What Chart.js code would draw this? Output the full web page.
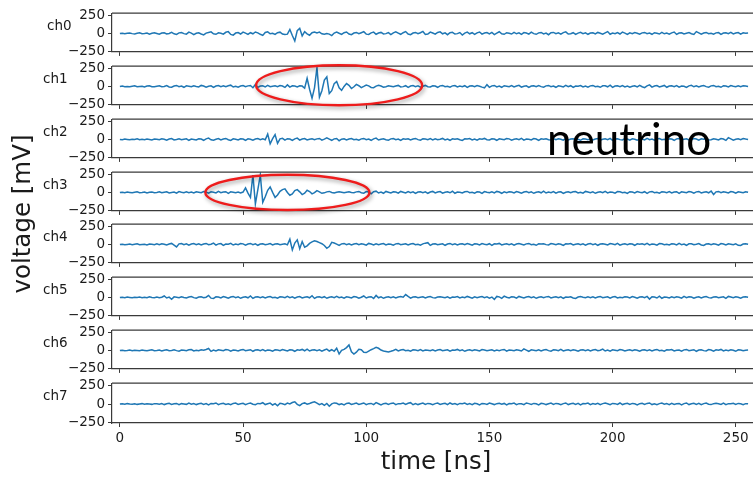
<!DOCTYPE html>
<html>
<head>
<meta charset="utf-8">
<script src="https://cdn.jsdelivr.net/npm/chart.js@4.4.0/dist/chart.umd.min.js"></script>
<style>
  html, body { margin: 0; padding: 0; background: #fff; }
  #wrap { position: relative; width: 753px; height: 477px; overflow: hidden; }
  #wrap canvas { position: absolute; left: 0; }
  .lbl { position: absolute; font-family: "DejaVu Sans", sans-serif; color: #1a1a1a; white-space: nowrap; line-height: 1; }
</style>
</head>
<body>
<div id="wrap"></div>
<script>
// waveforms, one sample per ns (mV)
const channelNames = ["ch0", "ch1", "ch2", "ch3", "ch4", "ch5", "ch6", "ch7"];
const ch0 = [0,3,-5,1,6,-3,-8,2,8,-5,0,6,-10,3,8,-2,
  -12,5,10,-8,0,15,-5,-14,8,12,-3,-10,18,5,-16,2,
  10,-8,-20,5,14,22,-5,-12,8,3,-10,16,25,-14,-24,5,
  12,-8,18,5,-14,10,-5,20,8,-12,-28,14,22,-5,3,-14,
  10,18,-8,-15,-10,55,-30,-107,40,72,-35,25,-5,-25,10,20,
  8,18,-5,-12,0,-10,-30,5,20,2,-14,10,20,-8,-18,5,
  14,-5,10,25,-10,-14,8,18,-12,5,14,-8,-3,12,-16,8,
  22,5,-12,10,26,-8,-18,5,14,-5,10,28,-14,-8,18,5,
  -10,14,22,-5,8,-18,10,16,-8,-3,12,-22,5,18,-5,10,
  -14,8,20,-10,5,12,-8,14,-16,5,24,-5,-12,10,3,-8,
  16,-5,8,-14,12,5,-10,18,-3,-12,8,14,-8,5,-18,10,
  14,-5,8,-10,12,22,-8,-5,10,-14,5,16,-3,8,-12,5,
  10,-8,14,3,-10,8,26,-12,5,-5,12,-8,18,5,-14,8,
  -5,12,3,-10,8,14,-5,5,-12,10,3,-8,16,-5,5,-10,
  8,20,-14,5,10,-8,3,12,-5,-14,26,8,-10,5,14,-5,
  3,-10,8,12,-14,5,10,-5,14,-8,5,12,-10,8,3,5];
const ch1 = [0,5,-3,0,-5,3,8,-5,0,3,-8,5,10,-3,-5,3,
  8,-5,0,12,-8,-10,5,14,-3,5,-12,8,3,-5,10,0,
  -8,14,5,-10,3,8,-14,5,12,-3,8,-5,10,18,-8,3,
  -10,5,12,-5,8,14,-18,28,-14,5,10,-8,14,-5,3,8,
  -5,12,5,-14,22,-10,8,5,-8,10,5,-25,115,-40,-165,-20,
  265,-150,-60,90,135,-100,-60,40,70,-20,-55,0,40,15,-30,-5,
  28,10,-18,0,20,8,-15,-18,4,16,6,-10,-4,8,3,-5,
  5,14,-8,-3,10,-14,5,12,-5,8,-10,3,14,-5,-8,10,
  5,-12,8,14,-5,3,-10,8,12,-8,5,-3,10,-14,5,8,
  -5,12,3,-10,-20,25,-12,8,14,-8,5,-12,10,3,-5,12,
  -8,5,16,-10,3,8,-14,5,10,-5,12,-3,-10,8,14,-5,
  5,-12,8,3,-8,14,-5,10,-14,5,3,12,-8,5,-10,8,
  14,-5,3,-12,8,10,-5,18,-14,5,8,-3,12,-8,5,-10,
  3,10,-8,14,-5,-18,8,22,-10,5,12,-8,3,14,-12,5,
  8,-5,12,-10,5,3,-14,8,16,-5,10,-8,5,12,-3,-10,
  8,14,-5,3,-12,10,5,-8,12,3,-5,10,-3,8,5,0];
const ch2 = [0,-3,5,0,-5,3,0,8,-5,3,-3,5,0,-8,5,3,
  -5,8,3,-10,5,12,-8,0,10,-5,3,8,-12,5,0,-8,
  10,5,-12,8,18,-5,-10,3,12,-8,5,14,-5,-14,8,3,
  -8,10,5,-12,8,3,-10,5,12,-5,8,-5,75,-62,10,68,
  -55,8,15,-10,10,5,-14,8,18,-10,5,12,-8,3,10,-5,
  8,14,-10,5,22,5,-12,8,14,-18,3,10,-8,5,12,-5,
  3,-10,8,14,-5,5,-12,8,18,-8,3,10,-5,-10,8,12,
  -5,5,-14,8,3,10,-8,5,14,-3,-10,8,5,-5,12,-8,
  10,-5,3,14,-8,5,-12,8,3,10,-5,-14,8,5,12,-8,
  5,-10,8,3,14,-5,-8,10,5,-12,8,3,-5,12,8,-10,
  3,8,-5,14,-10,5,3,-8,12,5,-14,8,3,10,-5,-8,
  12,-5,8,3,-10,14,-8,5,10,-5,3,-12,8,5,-3,10,
  -8,5,12,-10,3,8,-5,14,-12,5,10,-3,-8,12,5,-10,
  8,3,-12,10,5,-8,14,-3,5,-10,8,12,-5,3,-8,10,
  5,-12,8,14,-5,3,10,-8,-5,12,5,-10,8,3,14,-8,
  -5,10,3,-8,12,5,-14,25,8,-10,3,8,-5,12,5,0];
const ch3 = [0,3,-3,5,0,-5,3,8,-3,0,5,-8,3,5,-3,0,
  8,-5,3,10,-8,0,5,-10,12,3,-5,8,-3,5,-8,10,
  3,-5,12,5,-10,8,3,-8,14,-5,5,10,-12,8,3,-5,
  5,-8,5,64,-10,-70,245,-160,40,245,-140,-60,30,78,0,-70,
  -35,15,40,50,0,-40,-20,25,40,8,-30,-10,30,12,-20,-3,
  25,8,-12,-6,8,14,0,-8,2,10,3,-6,2,8,-2,-5,
  8,14,-5,-10,12,5,-20,10,18,-8,5,-12,14,3,-8,10,
  5,-10,14,3,-8,12,-5,8,-14,5,10,-3,8,-12,5,14,
  -8,5,12,-10,3,8,-5,16,-12,5,3,-8,10,14,-5,3,
  -10,8,5,-14,12,3,-5,10,-8,14,5,-12,8,-3,10,5,
  -8,12,3,-10,5,14,-5,8,-12,3,10,-5,18,-8,5,-3,
  12,-10,5,8,-14,3,10,-5,8,12,-8,3,-10,14,5,-5,
  8,-12,3,10,-5,14,-8,5,3,-10,12,8,-5,3,-14,10,
  5,-8,12,3,-5,10,-12,8,14,-5,3,-10,8,5,-3,12,
  -8,5,10,-14,8,3,-5,12,5,-10,8,14,-8,3,10,-5,
  18,-30,8,14,-5,10,3,-8,12,5,-10,8,3,-5,10,3];
const ch4 = [0,3,-5,0,5,-3,3,8,-5,0,3,-8,5,3,-3,8,
  -5,10,3,-8,5,14,-10,-35,8,12,-5,8,-10,5,12,-5,
  10,-8,5,14,-5,3,18,-10,8,12,-14,5,3,16,-8,5,
  -5,12,8,-10,5,14,-3,8,-12,5,10,-5,3,12,-8,5,
  10,-5,3,8,-6,73,-77,20,64,-60,40,-40,-20,15,35,50,
  40,25,10,-15,-55,-30,30,20,5,-14,8,14,-5,10,-8,5,
  12,-5,8,3,-10,14,5,-8,10,-3,5,12,-8,5,3,-10,
  8,14,-5,3,10,-8,5,12,-5,3,-10,8,18,25,-14,5,
  10,-5,3,8,-12,5,14,-3,8,-8,5,10,-5,12,3,-10,
  8,5,-8,12,3,-5,10,-12,8,5,14,-8,3,10,-5,8,
  -10,5,12,3,-8,8,14,-5,3,-12,8,5,10,-3,-8,12,
  5,-5,10,3,-14,8,5,12,-8,3,10,-5,8,-10,5,14,
  -3,8,-12,5,10,3,-8,12,5,-5,14,-10,3,8,-5,10,
  5,-12,8,3,10,-5,14,-8,5,3,-10,12,8,-5,3,-8,
  10,5,-8,14,-3,5,-12,8,10,-5,3,12,-8,-14,5,10,
  -5,8,3,-10,12,5,-8,10,3,-5,8,-12,-14,5,10,3];
const ch5 = [0,3,-3,5,0,-5,3,0,5,-3,3,-5,8,0,-3,5,
  -5,3,20,-8,5,-25,8,3,-5,10,0,-8,5,12,-3,-10,
  5,8,-5,3,28,-10,-14,8,5,-8,12,3,-10,5,14,-5,
  8,-12,3,10,-5,20,-14,5,8,-3,10,-8,5,12,-5,3,
  -10,8,5,-5,14,-3,8,-10,5,12,-8,3,10,-5,24,-14,
  5,8,-5,10,-12,3,8,-3,14,-5,5,-10,8,3,-8,12,
  5,-10,3,20,-8,5,10,-14,28,-5,8,-12,3,10,-5,8,
  -8,5,12,3,40,14,-10,5,8,-5,3,10,-8,5,12,-3,
  -8,5,10,3,-5,8,-10,5,3,12,-8,5,-5,14,3,-10,
  8,-5,5,12,-3,8,-10,5,-28,14,8,-12,18,3,-8,10,
  5,-10,14,3,-8,5,12,-5,8,-12,3,10,-5,8,14,-8,
  3,10,-5,8,-12,5,3,10,-8,-14,5,12,3,-5,8,-3,
  10,-8,5,14,-5,3,8,-10,5,12,-8,3,-5,10,5,-8,
  12,3,-10,5,8,-5,14,-24,10,5,-8,18,-12,5,3,-8,
  10,-5,8,3,-10,14,-5,8,5,-12,3,10,-8,5,12,-3,
  -8,5,10,-5,3,8,-12,14,5,-5,8,3,-10,5,8,3];
const ch6 = [0,3,-3,0,5,-5,3,0,-3,5,0,-5,3,8,-3,0,
  5,-8,3,10,-5,0,8,-3,-10,5,3,-5,8,12,-8,3,
  -5,10,3,14,28,-14,5,-8,10,3,-5,12,8,-10,5,3,
  -8,5,14,-5,3,10,-12,5,8,-3,12,-8,5,3,-10,8,
  5,-5,12,3,-8,10,5,-12,8,3,14,-5,18,-8,5,10,
  -3,8,-10,5,18,-8,10,-12,30,-50,0,15,40,77,-20,-51,
  -25,15,10,-25,-30,-10,10,25,43,30,5,-8,-15,-22,-12,0,
  14,-8,5,12,-5,3,-10,8,5,-3,12,-8,5,3,-5,10,
  -8,5,12,-5,3,8,-10,5,3,14,-5,8,-12,3,10,-5,
  8,3,-8,12,5,-5,3,10,-8,5,-3,8,14,-10,5,3,
  -5,10,3,-8,22,5,-12,8,3,-5,10,-8,5,12,-3,-10,
  8,5,-5,14,-8,3,10,-5,8,3,-12,5,10,-3,8,-8,
  5,12,-5,3,18,-8,5,-10,8,3,-5,12,5,-8,3,10,
  -5,8,3,-12,5,10,-3,8,-8,5,14,-5,3,-10,8,5,
  12,-8,3,5,-10,8,14,-5,3,10,-12,5,8,-3,-8,12,
  5,-10,8,3,14,-8,5,-5,10,3,-12,8,5,-5,3,5];
const ch7 = [0,3,-3,5,0,-3,3,-5,0,5,-3,3,0,-5,5,3,
  -3,5,-8,3,10,-5,3,8,-10,5,0,-5,12,-3,5,-8,
  3,10,-5,5,-12,8,3,14,-8,5,10,-5,3,-10,8,12,
  -5,3,10,-8,5,14,-3,-10,8,5,18,-8,3,12,-14,5,
  -25,10,4,-8,12,2,20,30,-5,-22,6,15,-3,8,20,30,
  12,-10,5,-18,8,-30,2,15,10,-8,3,-12,8,14,-5,3,
  12,-5,3,14,-10,5,8,-8,18,3,-12,5,10,-5,8,14,
  -8,5,3,12,-5,10,18,-10,5,-8,3,14,-5,8,3,-10,
  5,12,-5,3,10,-8,14,-3,5,-10,8,3,12,-5,5,-8,
  10,3,-12,8,5,-5,14,3,-8,5,10,-3,8,-12,5,3,
  12,-8,5,3,-10,14,5,-5,8,3,-12,10,5,-8,3,12,
  -5,8,3,-10,5,14,-8,3,10,-5,8,-12,5,3,12,-8,
  5,-3,10,-8,5,12,3,-10,8,5,-5,14,-8,3,10,-5,
  8,3,-12,5,10,-5,8,14,-8,3,-10,5,12,-3,5,-8,
  10,-5,3,8,-12,5,14,-8,3,10,-5,8,-10,5,12,-3,
  -8,5,10,3,-5,12,-8,5,3,10,-5,8,3,-10,5,3];
const channels = [ch0, ch1, ch2, ch3, ch4, ch5, ch6, ch7];

const xTicks = [0, 50, 100, 150, 200, 250];
const yTicks = [-250, 0, 250];

// red rings drawn on ch1 and ch3 (data units: ns, mV)
const rings = {
  1: { t: 89, dt: 33.7, v: 17, dv: 282 },
  3: { t: 68, dt: 33.3, v: 0, dv: 248 }
};

// layout
const X_MIN = -3.2, X_MAX = 257;
const Y_MIN = -260, Y_MAX = 286;
const PLOT_LEFT = 112;
const PANEL_TOP = 11, PITCH = 52.86, PANEL_H = 42, PAD = 9;
const LINE = "#1f77b4", SPINE = "#3a3a3a", TXT = "#1a1a1a";

Chart.defaults.font.family = "'DejaVu Sans', sans-serif";
Chart.defaults.color = TXT;

const deco = {
  id: "deco",
  afterDraw(chart, args, opts) {
    const { ctx, chartArea: a, scales } = chart;
    ctx.save();
    ctx.strokeStyle = SPINE;
    ctx.lineWidth = 1.2;
    ctx.beginPath();
    ctx.moveTo(a.left, a.top);
    ctx.lineTo(a.right, a.top);
    ctx.stroke();
    const r = opts.ring;
    if (r) {
      const cx = scales.x.getPixelForValue(r.t);
      const cy = scales.y.getPixelForValue(r.v);
      const rx = scales.x.getPixelForValue(r.t + r.dt) - cx;
      const ry = cy - scales.y.getPixelForValue(r.v + r.dv);
      ctx.shadowColor = "rgba(0,0,0,0.4)";
      ctx.shadowBlur = 4;
      ctx.shadowOffsetX = 1.5;
      ctx.shadowOffsetY = 2;
      ctx.strokeStyle = "#ee1c1c";
      ctx.lineWidth = 2.4;
      ctx.beginPath();
      ctx.ellipse(cx, cy, rx, ry, 0, 0, Math.PI * 2);
      ctx.stroke();
    }
    ctx.restore();
  }
};

const wrap = document.getElementById("wrap");

function addLabel(text, css) {
  const d = document.createElement("div");
  d.className = "lbl";
  d.textContent = text;
  Object.assign(d.style, css);
  wrap.appendChild(d);
  return d;
}

channels.forEach((vals, i) => {
  const last = i === channels.length - 1;
  const top = Math.round(PANEL_TOP + i * PITCH);
  const bottomH = last ? 40 : 10;
  const h = PAD + PANEL_H + bottomH;
  const cv = document.createElement("canvas");
  cv.width = 753; cv.height = h;
  cv.style.top = (top - PAD) + "px";
  wrap.appendChild(cv);

  new Chart(cv, {
    type: "line",
    data: {
      datasets: [{
        data: vals.map((v, k) => ({ x: k, y: v })),
        borderColor: LINE,
        borderWidth: 1.5,
        pointRadius: 0,
        tension: 0
      }]
    },
    options: {
      responsive: false,
      animation: false,
      devicePixelRatio: 1,
      layout: { padding: { top: PAD, left: 0, right: 0, bottom: 0 } },
      plugins: { legend: { display: false }, tooltip: { enabled: false }, deco: { ring: rings[i] } },
      scales: {
        x: {
          type: "linear", min: X_MIN, max: X_MAX,
          afterBuildTicks: s => { s.ticks = xTicks.map(v => ({ value: v })); },
          afterFit: s => { s.height = bottomH; },
          ticks: { display: last, autoSkip: false, maxRotation: 0, padding: 3, font: { size: 13.5 }, color: TXT },
          grid: { drawOnChartArea: false, tickLength: 4, color: SPINE, tickWidth: 1 },
          border: { color: SPINE, width: 1.2 }
        },
        y: {
          min: Y_MIN, max: Y_MAX,
          afterBuildTicks: s => { s.ticks = yTicks.map(v => ({ value: v })); },
          afterFit: s => { s.width = PLOT_LEFT; },
          ticks: {
            padding: 3, font: { size: 13.5 }, color: TXT,
            callback: v => (v < 0 ? "\u2212" + Math.abs(v) : String(v))
          },
          grid: { drawOnChartArea: false, tickLength: 4, color: SPINE, tickWidth: 1 },
          border: { color: SPINE, width: 1.2 }
        }
      }
    },
    plugins: [deco]
  });

  addLabel(channelNames[i], { fontSize: "13.5px", left: (i === 0 ? 47 : 43) + "px", top: (top + 15 - 7) + "px" });
});

const yl = addLabel("voltage [mV]", { fontSize: "24.5px", left: "22px", top: "214px" });
yl.style.transform = "translate(-50%, -50%) rotate(-90deg)";
const xl = addLabel("time [ns]", { fontSize: "24.5px", left: "436px", top: "461px" });
xl.style.transform = "translate(-50%, -50%)";
addLabel("neutrino", { fontSize: "44px", left: "547px", top: "116px", fontFamily: "Lato, sans-serif", color: "#000" });
</script>
</body>
</html>
